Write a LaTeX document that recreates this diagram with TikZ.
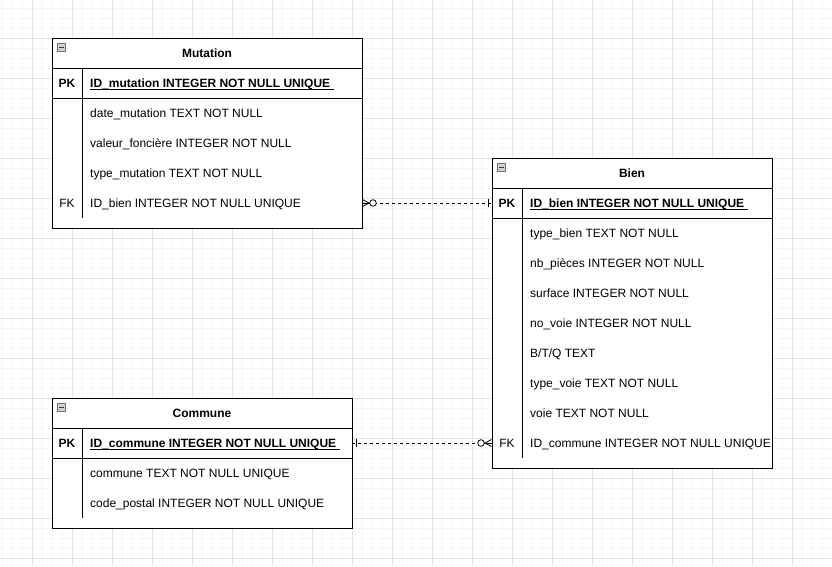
\documentclass[tikz,border=0pt]{standalone}
\usepackage{fontspec}
\setmainfont{Liberation Sans}
\newcommand\ulpk[1]{\setbox0\hbox{#1}\rlap{\rule[-2.3pt]{\wd0}{1.1pt}}\box0}
\begin{document}
\begin{tikzpicture}[x=1pt,y=-1pt,
  minor/.style={draw=black!4, line width=1pt},
  major/.style={draw=black!11, line width=1pt},
  tbl/.style={draw=black, line width=1pt, fill=white, anchor=north west, inner sep=0pt, outer sep=0pt},
  sep/.style={draw=black, line width=1pt},
  titletxt/.style={font=\fontsize{12}{14}\selectfont\bfseries, anchor=base, inner sep=0pt},
  keytxt/.style={font=\fontsize{12}{14}\selectfont\bfseries, anchor=base, inner sep=0pt},
  fktxt/.style={font=\fontsize{12}{14}\selectfont, anchor=base, inner sep=0pt},
  rowtxt/.style={font=\fontsize{12}{14}\selectfont, anchor=base west, inner sep=0pt},
  pktxt/.style={font=\fontsize{12}{14}\selectfont\bfseries, anchor=base west, inner sep=0pt},
  icon/.style={draw=black!55, fill=black!18, line width=0.6pt, minimum size=8pt, inner sep=0pt, outer sep=0pt},
  conn/.style={draw=black, line width=0.8pt, dash pattern=on 3pt off 3pt},
  connsym/.style={draw=black, line width=0.8pt},
  ring/.style={draw=black, line width=0.8pt, fill=white}
]
\useasboundingbox (0,0) rectangle (832,566);
\fill[white] (0,0) rectangle (832,566);
% grid
\foreach \x in {2,12,...,832} \draw[minor] (\x,0) -- (\x,566);
\foreach \y in {8,18,...,566} \draw[minor] (0,\y) -- (832,\y);
\foreach \x in {32,72,...,832} \draw[major] (\x,0) -- (\x,566);
\foreach \y in {38,78,...,566} \draw[major] (0,\y) -- (832,\y);

% ===== Mutation =====
\node[tbl, minimum width=310pt, minimum height=190pt] (mutation) at (52,38) {};
\draw[sep] (52,68) -- (362,68);
\draw[sep] (52,98) -- (362,98);
\draw[sep] (82,68) -- (82,218);
\node[icon] (mut-icon) at (61.5,47.5) {};
\draw[black!80, line width=0.8pt] (59,47.5) -- (64,47.5);
\node[titletxt] (mut-title) at (207,57.5) {Mutation};
\node[keytxt] (mut-pk) at (67,87.5) {PK};
\node[pktxt] (mut-id) at (90,87.5) {\ulpk{ID\_mutation INTEGER NOT NULL UNIQUE\ }};
\node[rowtxt] (mut-date) at (90,117.5) {date\_mutation TEXT NOT NULL};
\node[rowtxt] (mut-val) at (90,147.5) {valeur\_foncière INTEGER NOT NULL};
\node[rowtxt] (mut-type) at (90,177.5) {type\_mutation TEXT NOT NULL};
\node[fktxt] (mut-fk) at (67,207.5) {FK};
\node[rowtxt] (mut-idbien) at (90,207.5) {ID\_bien INTEGER NOT NULL UNIQUE};
\coordinate (mut-fkrow) at (90,203);

% ===== Bien =====
\node[tbl, minimum width=280pt, minimum height=310pt] (bien) at (492,158) {};
\draw[sep] (492,188) -- (772,188);
\draw[sep] (492,218) -- (772,218);
\draw[sep] (522,188) -- (522,458);
\node[icon] (bien-icon) at (501.5,167.5) {};
\draw[black!80, line width=0.8pt] (499,167.5) -- (504,167.5);
\node[titletxt] (bien-title) at (632,177.5) {Bien};
\node[keytxt] (bien-pk) at (507,207.5) {PK};
\node[pktxt] (bien-id) at (530,207.5) {\ulpk{ID\_bien INTEGER NOT NULL UNIQUE\ }};
\node[rowtxt] (bien-type) at (530,237.5) {type\_bien TEXT NOT NULL};
\node[rowtxt] (bien-nb) at (530,267.5) {nb\_pièces INTEGER NOT NULL};
\node[rowtxt] (bien-surf) at (530,297.5) {surface INTEGER NOT NULL};
\node[rowtxt] (bien-novoie) at (530,327.5) {no\_voie INTEGER NOT NULL};
\node[rowtxt] (bien-btq) at (530,357.5) {B/T/Q TEXT};
\node[rowtxt] (bien-typevoie) at (530,387.5) {type\_voie TEXT NOT NULL};
\node[rowtxt] (bien-voie) at (530,417.5) {voie TEXT NOT NULL};
\node[fktxt] (bien-fk) at (507,447.5) {FK};
\node[rowtxt] (bien-idcom) at (530,447.5) {ID\_commune INTEGER NOT NULL UNIQUE};

% ===== Commune =====
\node[tbl, minimum width=300pt, minimum height=130pt] (commune) at (52,398) {};
\draw[sep] (52,428) -- (352,428);
\draw[sep] (52,458) -- (352,458);
\draw[sep] (82,428) -- (82,518);
\node[icon] (com-icon) at (61.5,407.5) {};
\draw[black!80, line width=0.8pt] (59,407.5) -- (64,407.5);
\node[titletxt] (com-title) at (202,417.5) {Commune};
\node[keytxt] (com-pk) at (67,447.5) {PK};
\node[pktxt] (com-id) at (90,447.5) {\ulpk{ID\_commune INTEGER NOT NULL UNIQUE\ }};
\node[rowtxt] (com-name) at (90,477.5) {commune TEXT NOT NULL UNIQUE};
\node[rowtxt] (com-cp) at (90,507.5) {code\_postal INTEGER NOT NULL UNIQUE};
\coordinate (com-pkrow) at (90,443);

% ===== connector Mutation.ID_bien -> Bien.PK =====
\coordinate (c1a) at (mutation.east |- mut-fkrow);
\coordinate (c1b) at (bien.west |- mut-fkrow);
\draw[conn] (c1a) -- (c1b);
\draw[connsym] (c1a) -- ([xshift=7pt]c1a);
\draw[connsym] ([xshift=0.5pt,yshift=3.5pt]c1a) -- ([xshift=7pt]c1a) -- ([xshift=0.5pt,yshift=-3.5pt]c1a);
\draw[ring] ([xshift=11pt]c1a) circle[radius=3.3pt];
\draw[connsym] ([xshift=-4pt,yshift=4pt]c1b) -- ([xshift=-4pt,yshift=-4pt]c1b);

% ===== connector Commune.PK -> Bien.ID_commune =====
\coordinate (c2a) at (commune.east |- com-pkrow);
\coordinate (c2b) at (bien.west |- com-pkrow);
\draw[conn] (c2a) -- (c2b);
\draw[connsym] ([xshift=4pt,yshift=4pt]c2a) -- ([xshift=4pt,yshift=-4pt]c2a);
\draw[connsym] ([xshift=-7pt]c2b) -- (c2b);
\draw[connsym] ([xshift=-0.5pt,yshift=3.5pt]c2b) -- ([xshift=-7pt]c2b) -- ([xshift=-0.5pt,yshift=-3.5pt]c2b);
\draw[ring] ([xshift=-11pt]c2b) circle[radius=3.3pt];
\end{tikzpicture}
\end{document}
